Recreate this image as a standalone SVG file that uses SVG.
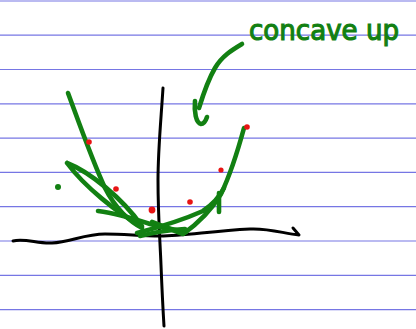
<svg xmlns="http://www.w3.org/2000/svg" width="416" height="329" viewBox="0 0 416 329">
<style>
.rule{stroke:#7676e4;stroke-width:1.2}
.ink{fill:none;stroke-linecap:round;stroke-linejoin:round}
.g{stroke:#128012;stroke-width:4.6}
.k{stroke:#000;stroke-width:3}
.dot{fill:#e81414}
</style>
<rect width="416" height="329" fill="#fff"/>
<g id="paper-rules">
<line class="rule" x1="0" y1="1" x2="416" y2="1"/>
<line class="rule" x1="0" y1="35.2" x2="416" y2="35.2"/>
<line class="rule" x1="0" y1="69.5" x2="416" y2="69.5"/>
<line class="rule" x1="0" y1="103.8" x2="416" y2="103.8"/>
<line class="rule" x1="0" y1="138.1" x2="416" y2="138.1"/>
<line class="rule" x1="0" y1="172.4" x2="416" y2="172.4"/>
<line class="rule" x1="0" y1="206.7" x2="416" y2="206.7"/>
<line class="rule" x1="0" y1="241" x2="416" y2="241"/>
<line class="rule" x1="0" y1="275.3" x2="416" y2="275.3"/>
<line class="rule" x1="0" y1="309.6" x2="416" y2="309.6"/>
</g>
<g id="axes">
<path class="ink k" d="M163,88 C161,120 158,150 158,180 C158,215 160,240 161,265 C162,290 163,310 164,326"/>
<path class="ink k" d="M13,241 C25,238 38,244 52,243 C70,242 85,234 105,234 C125,234 140,236 160,236 C185,236 210,231 250,229 C270,228 285,234 299,235 L293,228"/>
</g>
<g id="parabola">
<path class="ink g" d="M68,93 C78,120 92,160 105,188 C115,208 130,222 142,228"/>
<path class="ink g" d="M67,163 C90,172 122,198 142,226 C118,214 84,186 67,163"/>
<path class="ink g" d="M98,211 C115,213 135,219 150,224 C162,227 175,230 186,232"/>
<path class="ink g" d="M244,128 C238,150 231,173 221,194 C210,212 196,225 183,234 L152,222"/>
<path class="ink g" d="M137,233 C160,227 185,219 203,211 C213,204 220,196 224,188"/>
<path class="ink g" d="M140,236 C155,232 170,230 185,229"/>
<path class="ink g" d="M219,193 L219,212"/>
<circle cx="58" cy="187" r="3" fill="#128012"/>
</g>
<g id="sample-points">
<circle class="dot" cx="89" cy="142" r="2.8"/>
<circle class="dot" cx="116" cy="189" r="2.8"/>
<circle class="dot" cx="152" cy="210" r="3.4"/>
<circle class="dot" cx="190" cy="202" r="2.8"/>
<circle class="dot" cx="221" cy="170" r="2.6"/>
<circle class="dot" cx="247" cy="127" r="2.8"/>
</g>
<g id="label">
<path class="ink g" d="M242,44 C232,50 222,56 215,68 C208,80 203,95 199,108"/>
<path class="ink g" d="M195,101 C194,112 196,123 201,124 C204,124 206,120 207,117"/>
<text x="249" y="40" font-family="'DejaVu Sans', sans-serif" font-size="28" fill="#128012" stroke="#128012" stroke-width="1.2" textLength="150" lengthAdjust="spacingAndGlyphs">concave up</text>
</g>
</svg>
